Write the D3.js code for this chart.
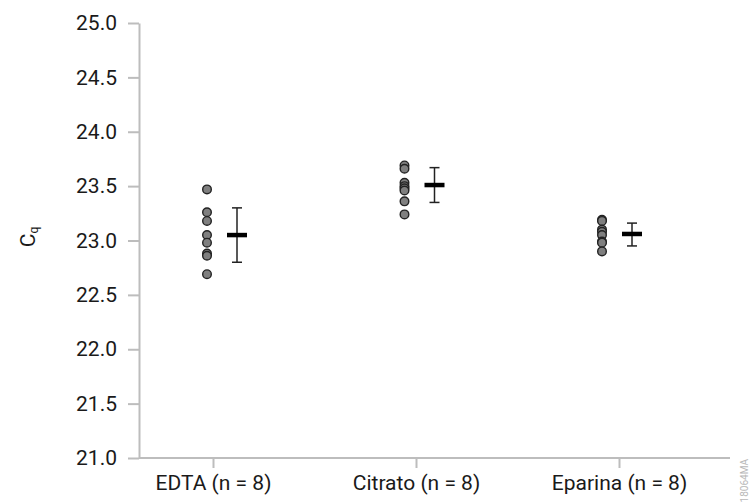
<!DOCTYPE html>
<html>
<head>
<meta charset="utf-8">
<script src="https://cdn.jsdelivr.net/npm/d3@7"></script>
<style>
  body { margin: 0; background: #fff; }
  svg { display: block; font-family: Roboto, "Noto Sans", sans-serif; }
</style>
</head>
<body>
<div id="chart"></div>
<script>
const categories = ['EDTA (n = 8)', 'Citrato (n = 8)', 'Eparina (n = 8)'];
const samples = [
  [23.47, 23.26, 23.18, 23.05, 22.98, 22.88, 22.86, 22.69],
  [23.69, 23.66, 23.53, 23.50, 23.48, 23.46, 23.36, 23.24],
  [23.19, 23.18, 23.10, 23.08, 23.05, 22.99, 22.98, 22.90],
];
const means = [23.05, 23.51, 23.06];
const errLow = [22.80, 23.35, 22.95];
const errHigh = [23.30, 23.67, 23.16];
const yTicks = [21.0, 21.5, 22.0, 22.5, 23.0, 23.5, 24.0, 24.5, 25.0];

const width = 750;
const height = 502;
const margin = {top: 23, right: 20, bottom: 44, left: 139};
const font = 'Roboto, "Noto Sans", sans-serif';

const svg = d3.select('#chart').append('svg')
  .attr('width', width)
  .attr('height', height);

const axisColor = '#bdbdbd';

const y = d3.scaleLinear().domain([21, 25]).range([height - margin.bottom, margin.top]);
const x = d3.scalePoint().domain(categories).range([213, 619]);
// dots and means sit on a slightly narrower spacing than the ticks
const xMark = d3.scalePoint().domain(categories).range([207, 602]);

// y axis
const yAxis = svg.append('g')
  .attr('transform', `translate(${margin.left},0)`)
  .call(d3.axisLeft(y).tickValues(yTicks).tickFormat(d3.format('.1f')).tickSize(11).tickSizeOuter(0).tickPadding(11))
  .attr('font-family', font)
  .attr('font-size', 21);
yAxis.select('.domain').attr('stroke', axisColor).attr('stroke-width', 2);
yAxis.selectAll('.tick line').attr('stroke', axisColor).attr('stroke-width', 2);
yAxis.selectAll('.tick text').attr('fill', '#1a1a1a');

// x axis
const xAxis = svg.append('g')
  .attr('transform', `translate(0,${height - margin.bottom})`)
  .call(d3.axisBottom(x).tickSize(10).tickSizeOuter(0).tickPadding(7))
  .attr('font-family', font)
  .attr('font-size', 21);
xAxis.select('.domain')
  .attr('d', `M${margin.left},0H${width - margin.right}`)
  .attr('stroke', axisColor).attr('stroke-width', 2);
xAxis.selectAll('.tick line').attr('stroke', axisColor).attr('stroke-width', 2);
xAxis.selectAll('.tick text').attr('fill', '#1a1a1a');

// y label
const yLabel = svg.append('text')
  .attr('transform', 'translate(35,237) rotate(-90)')
  .attr('text-anchor', 'middle')
  .attr('fill', '#1a1a1a')
  .style('font-size', '21px');
yLabel.append('tspan').text('C');
yLabel.append('tspan').attr('dy', 3).style('font-size', '12px').text('q');

// points
const groups = svg.append('g')
  .selectAll('g')
  .data(categories)
  .join('g');

groups.selectAll('circle')
  .data((d, i) => samples[i].map((v) => ({cat: d, v})))
  .join('circle')
  .attr('cx', (d) => xMark(d.cat))
  .attr('cy', (d) => y(d.v))
  .attr('r', 4.3)
  .attr('fill', '#7f7f7f')
  .attr('stroke', '#222')
  .attr('stroke-width', 1.4);

// error bars + mean
const off = 30;
groups.append('line')
  .attr('x1', (d) => xMark(d) + off)
  .attr('x2', (d) => xMark(d) + off)
  .attr('y1', (d, i) => y(errLow[i]))
  .attr('y2', (d, i) => y(errHigh[i]))
  .attr('stroke', '#222')
  .attr('stroke-width', 1.5);

[errLow, errHigh].forEach((arr) => {
  groups.append('line')
    .attr('x1', (d) => xMark(d) + off - 5)
    .attr('x2', (d) => xMark(d) + off + 5)
    .attr('y1', (d, i) => y(arr[i]))
    .attr('y2', (d, i) => y(arr[i]))
    .attr('stroke', '#222')
    .attr('stroke-width', 1.5);
});

groups.append('line')
  .attr('x1', (d) => xMark(d) + off - 10)
  .attr('x2', (d) => xMark(d) + off + 10)
  .attr('y1', (d, i) => y(means[i]))
  .attr('y2', (d, i) => y(means[i]))
  .attr('stroke', '#000')
  .attr('stroke-width', 4.5);

// figure code
svg.append('text')
  .attr('transform', 'translate(748,459) rotate(-90)')
  .attr('text-anchor', 'end')
  .attr('fill', '#b8b8b8')
  .style('font-size', '10px')
  .text('18064MA');
</script>
</body>
</html>
